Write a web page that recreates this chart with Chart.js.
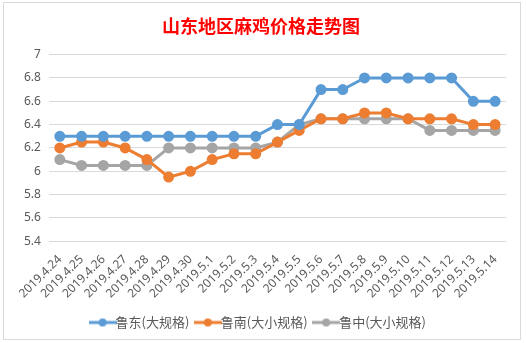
<!DOCTYPE html>
<html>
<head>
<meta charset="utf-8">
<script src="https://cdn.jsdelivr.net/npm/chart.js@4"></script>
<style>
  body { margin: 0; background: #fff; }
  #box { position: absolute; left: 3px; top: 2px; width: 516px; height: 336px; border: 1px solid #d9d9d9; }
</style>
</head>
<body>
<div id="box"><canvas id="linechart"></canvas></div>
<script>
var dates = ['2019.4.24', '2019.4.25', '2019.4.26', '2019.4.27', '2019.4.28', '2019.4.29', '2019.4.30',
    '2019.5.1', '2019.5.2', '2019.5.3', '2019.5.4', '2019.5.5', '2019.5.6', '2019.5.7',
    '2019.5.8', '2019.5.9', '2019.5.10', '2019.5.11', '2019.5.12', '2019.5.13', '2019.5.14'];
var ludong = [6.3, 6.3, 6.3, 6.3, 6.3, 6.3, 6.3, 6.3, 6.3, 6.3, 6.4, 6.4, 6.7, 6.7, 6.8, 6.8, 6.8, 6.8, 6.8, 6.6, 6.6];
var lunan = [6.2, 6.25, 6.25, 6.2, 6.1, 5.95, 6.0, 6.1, 6.15, 6.15, 6.25, 6.35, 6.45, 6.45, 6.5, 6.5, 6.45, 6.45, 6.45, 6.4, 6.4];
var luzhong = [6.1, 6.05, 6.05, 6.05, 6.05, 6.2, 6.2, 6.2, 6.2, 6.2, 6.25, 6.4, 6.45, 6.45, 6.45, 6.45, 6.45, 6.35, 6.35, 6.35, 6.35];
var seriesNames = ['鲁东(大规格)', '鲁南(大小规格)', '鲁中(大小规格)'];
var colors = ['#5B9BD5', '#ED7D31', '#A5A5A5'];

// legend marker: short line with a dot
function marker(color) {
    var c = document.createElement('canvas');
    c.width = 28; c.height = 10;
    var g = c.getContext('2d');
    g.strokeStyle = color; g.lineWidth = 3;
    g.beginPath(); g.moveTo(0, 5); g.lineTo(28, 5); g.stroke();
    g.fillStyle = color;
    g.beginPath(); g.arc(14, 5, 4, 0, Math.PI * 2); g.fill();
    return c;
}

function makeSet(i, data) {
    return {
        label: seriesNames[i],
        data: data,
        borderColor: colors[i],
        backgroundColor: colors[i],
        borderWidth: 3,
        pointRadius: 4,
        pointHoverRadius: 4,
        pointStyle: 'circle',
        tension: 0
    };
}

var ctx = document.getElementById('linechart').getContext('2d');
var myChart = new Chart(ctx, {
    type: 'line',
    data: {
        labels: dates,
        datasets: [makeSet(0, ludong), makeSet(1, lunan), makeSet(2, luzhong)]
    },
    options: {
        responsive: true,
        maintainAspectRatio: false,
        animation: false,
        layout: { padding: { left: 12, right: 14, top: 2, bottom: 0 } },
        plugins: {
            title: {
                display: true,
                text: '山东地区麻鸡价格走势图',
                color: '#FF0000',
                font: { family: 'Noto Sans CJK SC', size: 18, weight: 'bold' },
                padding: { top: 10, bottom: 18 }
            },
            legend: {
                position: 'bottom',
                labels: {
                    usePointStyle: true,
                    color: '#595959',
                    font: { family: 'Noto Sans CJK SC', size: 13 },
                    padding: 12,
                    generateLabels: function (chart) {
                        return chart.data.datasets.map(function (ds, i) {
                            return {
                                text: ds.label,
                                pointStyle: marker(colors[i]),
                                fontColor: '#595959',
                                strokeStyle: colors[i],
                                fillStyle: colors[i],
                                datasetIndex: i
                            };
                        });
                    }
                }
            },
            tooltip: { enabled: false }
        },
        scales: {
            x: {
                offset: true,
                grid: { display: false },
                border: { display: false },
                ticks: {
                    color: '#595959',
                    font: { family: 'Noto Sans', size: 12 },
                    minRotation: 45,
                    maxRotation: 45,
                    autoSkip: false
                }
            },
            y: {
                min: 5.4,
                max: 7,
                grid: { color: '#d9d9d9', drawTicks: false },
                border: { display: false },
                ticks: {
                    stepSize: 0.2,
                    padding: 8,
                    color: '#595959',
                    font: { family: 'Noto Sans', size: 12 },
                    callback: function (v) { return String(Number(v.toFixed(1))); }
                }
            }
        }
    }
});
</script>
</body>
</html>
